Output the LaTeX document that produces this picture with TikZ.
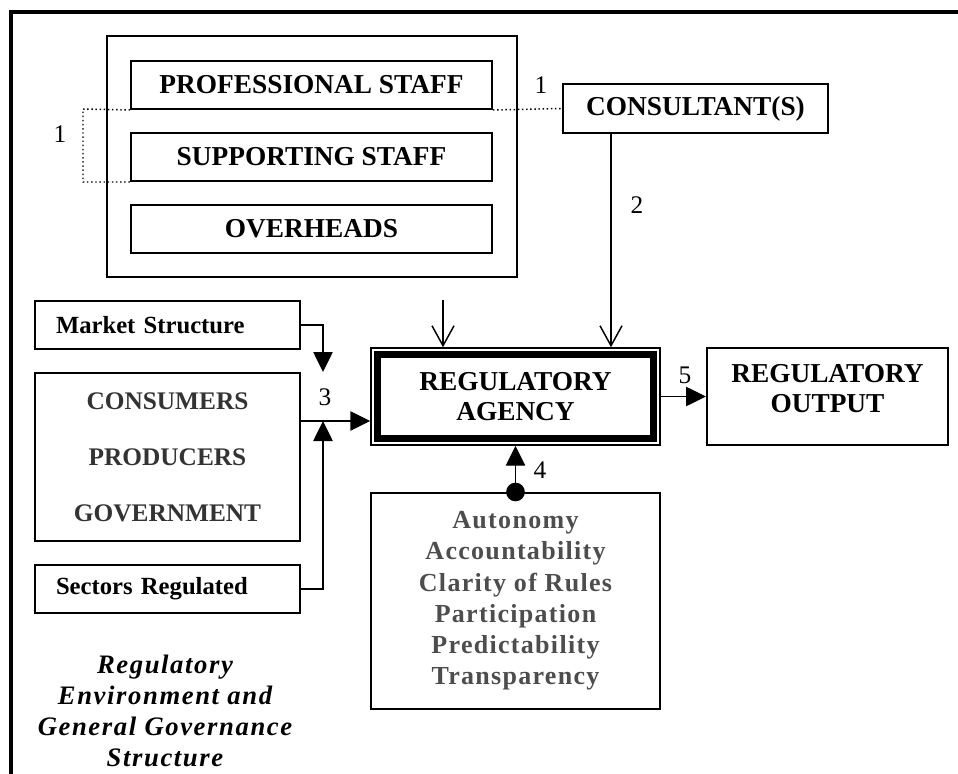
\documentclass[tikz,border=0pt]{standalone}
\usepackage{fontspec}
\setmainfont{Liberation Serif}
\usetikzlibrary{arrows.meta}

\definecolor{darktext}{HTML}{333333}
\definecolor{greytext}{HTML}{4D4D4D}

\begin{document}
\begin{tikzpicture}[x=0.75pt, y=-0.75pt,
  box/.style={draw, line width=1.5pt, inner sep=0pt, align=center},
  big/.style={font=\fontsize{20.5}{22.5}\selectfont\bfseries},
  mid/.style={font=\fontsize{18.5}{22}\selectfont\bfseries},
  num/.style={font=\fontsize{19}{22}\selectfont},
  link/.style={line width=1.1pt},
  tri/.style={link, -{Triangle[length=15pt,width=14.5pt]}},
  barb/.style={link, -{Straight Barb[length=15pt,width=16.5pt,line width=1.1pt]}}]

\useasboundingbox (0,0) rectangle (958,774);

% outer frame
\draw [line width=3pt] (11,774) -- (11,12) -- (958,12);

% agency resources
\node [box, minimum width=307.5pt, minimum height=180.75pt] (staff) at (312,156.5) {};
\node [box, big, minimum width=270.75pt, minimum height=36pt] (prof) at (311.5,85) {PROFESSIONAL STAFF};
\node [box, big, minimum width=270.75pt, minimum height=36pt] (supp) at (311.5,157) {SUPPORTING STAFF};
\node [box, big, minimum width=270.75pt, minimum height=36pt] (over) at (311.5,229) {OVERHEADS};
\node [box, big, minimum width=198.75pt, minimum height=36.75pt] (cons) at (695.5,108.5) {CONSULTANT(S)};

% environment
\node [box, mid, minimum height=36pt, inner xsep=15.75pt, text width=167.25pt, align=left] (market) at (167.5,325) {Market Structure};
\node [box, minimum width=198.75pt, minimum height=126pt, text=darktext,
       font=\fontsize{19}{42}\selectfont\bfseries] (actors) at (167.5,457) {CONSUMERS\\PRODUCERS\\GOVERNMENT};
\node [box, mid, minimum height=36pt, inner xsep=15.75pt, text width=167.25pt, align=left] (sectors) at (167.5,589) {Sectors Regulated};
\node [align=center, font=\fontsize{20}{23.25}\selectfont\bfseries\itshape\addfontfeature{LetterSpace=6}] (env) at (165,711)
  {Regulatory\\Environment and\\General Governance\\Structure};

% agency and output
\node [draw, line width=1.1pt, minimum width=216.75pt, minimum height=72.75pt, align=center, big] (agency) at (515.5,396.5) {REGULATORY\\AGENCY};
\draw [line width=5.25pt] ([xshift=5.6pt,yshift=-5.6pt]agency.north west) rectangle ([xshift=-5.6pt,yshift=5.6pt]agency.south east);
\node [box, big, minimum width=180.75pt, minimum height=72.75pt, text depth=12pt] (output) at (827.5,396.5) {REGULATORY\\OUTPUT};
\node [box, minimum width=216.75pt, minimum height=162pt, text=greytext,
       font=\fontsize{19.5}{23.4}\selectfont\bfseries\addfontfeature{LetterSpace=5}] (gov) at (515.5,601)
  {Autonomy\\Accountability\\Clarity of Rules\\Participation\\Predictability\\Transparency};

% links
\coordinate (k1) at (83,109);
\draw [link, dotted] (prof.south west) -- (k1) -- (k1 |- supp.south west) -- (supp.south west);
\draw [link, dotted] (prof.south east) -- (cons.west);
\node [num] (n1a) at (60,134) {1};
\node [num] (n1b) at (541,85) {1};

\coordinate (c2) at ([xshift=36.75pt]cons.south west);
\draw [barb] (c2) -- (c2 |- agency.north);
\node [num] (n2) at (637,205) {2};

\coordinate (s1) at (443,300);
\draw [barb] (s1) -- (s1 |- agency.north);

\coordinate (m3) at (323,372);
\coordinate (j3) at (323,421);
\draw [tri] (market.east) -| (m3);
\draw [tri] (actors.east |- j3) -- (agency.west |- j3);
\draw [tri] (sectors.east) -| (j3);
\node [num] (n3) at (325,397) {3};

\draw [tri] (gov.north) -- (agency.south);
\fill (gov.north) circle (7pt);
\node [num] (n4) at (540,470) {4};

\draw [tri] (agency.east) -- (output.west);
\node [num] (n5) at (685,375) {5};

\end{tikzpicture}
\end{document}
